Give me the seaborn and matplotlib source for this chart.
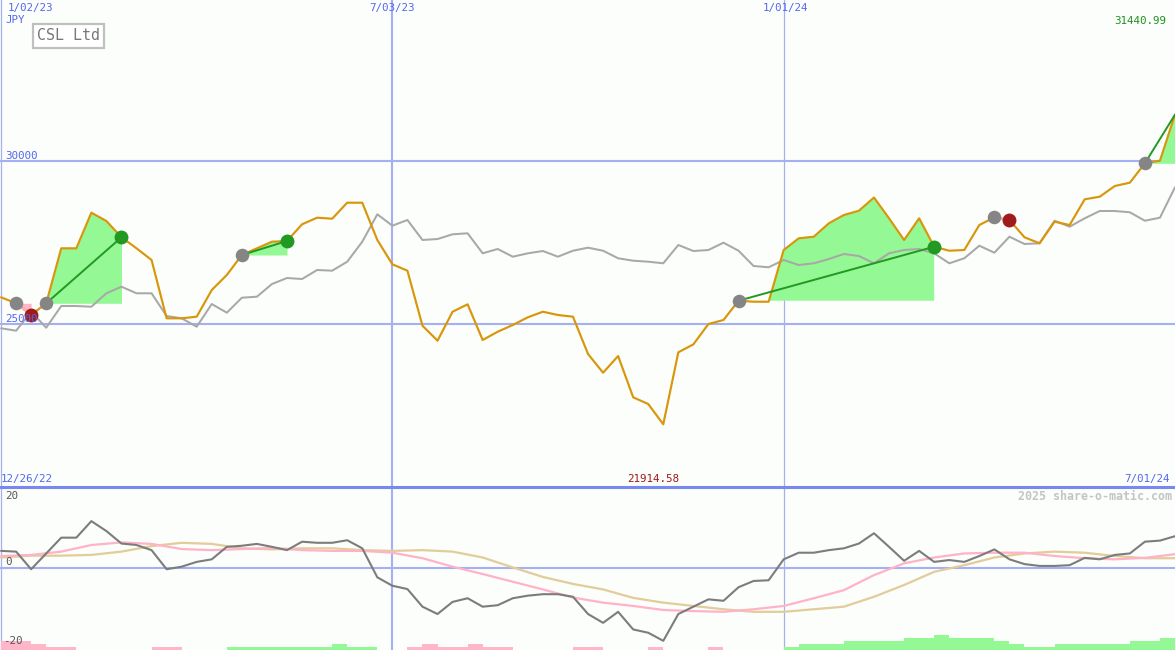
import numpy as np
import matplotlib
matplotlib.use("Agg")
import matplotlib.pyplot as plt
from matplotlib.patches import Rectangle
import seaborn as sns

# weekly closes, week 0 = 1/02/23
weeks = np.arange(79)
price = [25822, 25637, 25277, 25637, 27329, 27329, 28425, 28169, 27668, 27329,
         26969, 25175, 25175, 25225, 26046, 26508, 27123, 27329, 27532, 27554,
         28068, 28271, 28240, 28732, 28732, 27585, 26837, 26640, 24948, 24486,
         25378, 25606, 24508, 24763, 24969, 25206, 25378, 25277, 25225, 24077,
         23502, 24015, 22745, 22538, 21915, 24129, 24375, 25000, 25123, 25717,
         25686, 25686, 27277, 27637, 27686, 28098, 28354, 28486, 28892, 28252,
         27585, 28252, 27378, 27255, 27277, 28046, 28283, 28200, 27668, 27483,
         28148, 28046, 28837, 28917, 29246, 29348, 29945, 30025, 31441]
avg = [24868, 24794, 25378, 24886, 25554, 25554, 25532, 25945, 26148, 25945,
       25945, 25246, 25175, 24917, 25615, 25348, 25809, 25840, 26231, 26415,
       26385, 26662, 26640, 26917, 27532, 28375, 28025, 28200, 27585, 27615,
       27760, 27791, 27175, 27308, 27071, 27175, 27246, 27071, 27255, 27348,
       27255, 27022, 26948, 26917, 26868, 27431, 27246, 27277, 27502, 27255,
       26785, 26745, 26969, 26815, 26868, 27000, 27154, 27092, 26868, 27175,
       27277, 27308, 27175, 26868, 27022, 27409, 27194, 27686, 27462, 27483,
       28178, 27994, 28252, 28477, 28477, 28437, 28178, 28271, 29206]

momentum = [4.6, 4.4, -0.4, 3.9, 8.2, 8.2, 12.7, 10.0, 6.6, 6.2,
            4.8, -0.4, 0.3, 1.6, 2.3, 5.7, 6.0, 6.5, 5.7, 4.8,
            7.1, 6.8, 6.8, 7.5, 5.3, -2.6, -4.9, -5.8, -10.6, -12.6,
            -9.3, -8.3, -10.6, -10.2, -8.3, -7.6, -7.2, -7.2, -7.9, -12.6,
            -15.0, -12.0, -16.8, -17.7, -19.9, -12.6, -10.6, -8.6, -9.0, -5.3,
            -3.6, -3.4, 2.3, 4.1, 4.1, 4.8, 5.3, 6.6, 9.4, 5.7,
            1.9, 4.6, 1.6, 2.1, 1.6, 3.2, 5.0, 2.3, 1.0, 0.5,
            0.5, 0.7, 2.7, 2.3, 3.5, 3.9, 7.1, 7.4, 8.6]
smooth_weeks = np.arange(0, 79, 2)
signal_fast = [3.2, 3.5, 4.4, 6.2, 6.9, 6.5, 5.1, 4.8, 5.1, 5.4,
               4.8, 4.6, 4.6, 4.1, 2.6, 0.3, -1.7, -3.8, -5.9, -8.1,
               -9.5, -10.4, -11.5, -11.8, -12.0, -11.3, -10.4, -8.3, -6.1, -2.0,
               1.2, 2.8, 3.9, 4.1, 4.1, 3.2, 2.6, 2.3, 2.7, 3.7]
signal_slow = [2.8, 3.3, 3.3, 3.5, 4.4, 5.9, 6.8, 6.5, 5.3, 5.0,
               5.3, 5.3, 4.8, 4.6, 4.8, 4.4, 2.8, 0.1, -2.5, -4.4,
               -5.9, -8.2, -9.5, -10.4, -11.3, -12.0, -12.0, -11.3, -10.6, -7.9,
               -4.7, -1.1, 0.7, 2.8, 3.9, 4.4, 4.1, 3.2, 2.6, 2.6]
strength = [-3, -3, -2, -1, -1, 0, 0, 0, 0, 0,
            -1, -1, 0, 0, 0, 1, 1, 1, 1, 1,
            1, 1, 2, 1, 1, 0, 0, -1, -2, -1,
            -1, -2, -1, -1, 0, 0, 0, 0, -1, -1,
            0, 0, 0, -1, 0, 0, 0, -1, 0, 0,
            0, 0, 1, 2, 2, 2, 3, 3, 3, 3,
            4, 4, 5, 4, 4, 4, 3, 2, 1, 1,
            2, 2, 2, 2, 2, 3, 3, 4, 4]

# trades (week index of entry / exit)
entries = [1, 3, 16, 49, 66, 76]
exits = [2, 8, 19, 62, 67, 78]
closed = [True, True, True, True, True, False]

grid_weeks = [0, 26, 52]
grid_labels = ["1/02/23", "7/03/23", "1/01/24"]
price_levels = [25000, 30000]

BG = "#fbfefb"
GRID = "#a4b0f2"
BLUE_TXT = "#5566ee"
GREEN = "#229922"
RED = "#a01c1c"

sns.set_theme(style="white")
plt.rcParams["font.family"] = ["DejaVu Sans Mono", "DejaVu Sans"]

W, H = 1175, 650
fig = plt.figure(figsize=(W / 100, H / 100), dpi=100, facecolor=BG)
ax = fig.add_axes([0, 163 / H, 1, 487 / H])
ax2 = fig.add_axes([0, 0, 1, 163 / H])
for a in (ax, ax2):
    a.set_facecolor(BG)
    a.set_xlim(-0.07, 78.0)
    a.set_xticks([])
    a.set_yticks([])
    for s in a.spines.values():
        s.set_visible(False)
ax.set_ylim(19985, 34969)
ax2.set_ylim(-22.4, 22.0)

# grid
for lvl in price_levels:
    ax.axhline(lvl, color=GRID, lw=1.5, zorder=0.5)
ax2.axhline(0, color=GRID, lw=1.5, zorder=0.5)
for i, w in enumerate(grid_weeks):
    lw = 1.5 if i == 1 else 0.9
    ax.axvline(w, color=GRID, lw=lw, zorder=0.5)
    ax2.axvline(w, color=GRID, lw=lw, zorder=0.5)
ax2.axhline(22.0, color="#7888ee", lw=2.2, zorder=3, clip_on=False)

# trade fills
p_arr = np.array(price, dtype=float)
for e, x in zip(entries, exits):
    seg = weeks[e:x + 1]
    p = p_arr[e:x + 1]
    base = p_arr[e]
    ax.fill_between(seg, p, base, where=p >= base, interpolate=True,
                    color="#94f894", lw=0, zorder=1)
    ax.fill_between(seg, p, base, where=p <= base, interpolate=True,
                    color="#ffb6c8", lw=0, zorder=1)

sns.lineplot(x=weeks, y=avg, ax=ax, color="#a8a8a8", lw=1.45, zorder=2)
sns.lineplot(x=weeks, y=price, ax=ax, color="#d9960b", lw=1.55, zorder=3)

for e, x in zip(entries, exits):
    c = GREEN if price[x] > price[e] else "#ffb0c8"
    sns.lineplot(x=[weeks[e], weeks[x]], y=[price[e], price[x]], ax=ax,
                 color=c, lw=1.4, zorder=4)

sns.scatterplot(x=[weeks[e] for e in entries], y=[price[e] for e in entries],
                ax=ax, color="#858585", s=95, linewidth=0, zorder=5)
for e, x, c in zip(entries, exits, closed):
    if c:
        col = GREEN if price[x] > price[e] else RED
        sns.scatterplot(x=[weeks[x]], y=[price[x]], ax=ax, color=col, s=100,
                        linewidth=0, zorder=5)

# lower panel
lvl_h = 0.82
heights = [abs(v) * lvl_h for v in strength]
bar_cols = ["#94f894" if v > 0 else "#ffb6c8" for v in strength]
ax2.bar(weeks, heights, width=1.0, align="edge", bottom=-22.4,
        color=bar_cols, lw=0, zorder=1)
sns.lineplot(x=smooth_weeks, y=signal_slow, ax=ax2, color="#e2cc9a", lw=1.6, zorder=2)
sns.lineplot(x=smooth_weeks, y=signal_fast, ax=ax2, color="#ffb2c8", lw=1.6, zorder=2)
sns.lineplot(x=weeks, y=momentum, ax=ax2, color="#7c7c7c", lw=1.5, zorder=3)


def ftext(x, y, s, **kw):
    fig.text(x / W, 1 - y / H, s, va="center", **kw)


ftext(8, 8, grid_labels[0], color=BLUE_TXT, fontsize=7.8)
ftext(392, 8, grid_labels[1], color=BLUE_TXT, fontsize=7.8, ha="center")
ftext(785, 8, grid_labels[2], color=BLUE_TXT, fontsize=7.8, ha="center")
ftext(5, 20, "JPY", color=BLUE_TXT, fontsize=7.8)
ftext(1166, 21, "31440.99", color="#209020", fontsize=7.8, ha="right")
ftext(5, 156, "30000", color=BLUE_TXT, fontsize=7.8)
ftext(5, 319, "25000", color=BLUE_TXT, fontsize=7.8)

fig.patches.append(Rectangle((33 / W, 1 - 48 / H), 71 / W, 24 / H,
                             transform=fig.transFigure, facecolor="white",
                             edgecolor="#c0c0c0", lw=1.6, zorder=6))
ftext(68.5, 36, "CSL Ltd", color="#777777", fontsize=10.8, ha="center", zorder=7)

ftext(1, 479, "12/26/22", color=BLUE_TXT, fontsize=7.8)
ftext(653, 479, "21914.58", color="#a01818", fontsize=7.8, ha="center")
ftext(1170, 479, "7/01/24", color=BLUE_TXT, fontsize=7.8, ha="right")
ftext(1172, 496, "2025 share-o-matic.com", color="#c4c4c4", fontsize=8.4,
      ha="right", fontweight="bold")
ftext(5, 496, "20", color="#555555", fontsize=7.8)
ftext(5, 562, "0", color="#555555", fontsize=7.8)
ftext(3, 641, "-20", color="#555555", fontsize=7.8)

fig.savefig("out.png", dpi=100, facecolor=BG)
